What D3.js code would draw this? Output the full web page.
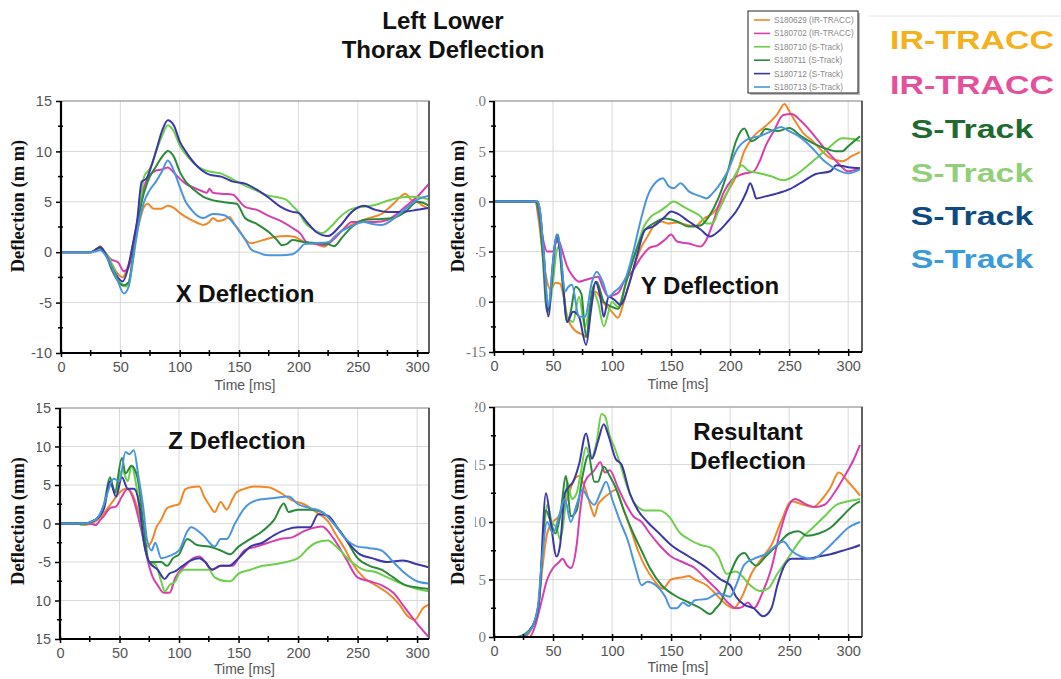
<!DOCTYPE html>
<html>
<head>
<meta charset="utf-8">
<script src="https://cdn.jsdelivr.net/npm/d3@7"></script>
<style>
  body { margin: 0; background: #fff; }
  svg { display: block; }
</style>
</head>
<body>
<svg id="chart" width="1061" height="679"></svg>
<script>
// ---- Series (test IDs, sensors, colours) ----
const seriesNames = ["S180629 (IR-TRACC)", "S180702 (IR-TRACC)", "S180710 (S-Track)",
                     "S180711 (S-Track)", "S180712 (S-Track)", "S180713 (S-Track)"];
const seriesColors = ["#f0882a", "#d63fae", "#6dcf4b", "#2b8a3a", "#3a38a6", "#4b95df"];
const sensorLabels = ["IR-TRACC", "IR-TRACC", "S-Track", "S-Track", "S-Track", "S-Track"];
const sensorColors = ["#f5b01e", "#e5509d", "#1f6b2f", "#93cf79", "#0c4a80", "#3b9ad9"];

// ---- Axis ticks ----
const timeTicks = [0, 50, 100, 150, 200, 250, 300];
const timeMinor = [25, 75, 125, 175, 225, 275];
const xTicks = [15, 10, 5, 0, -5, -10];
const yTicks = [10, 5, 0, -5, -10, -15];
const zTicks = [15, 10, 5, 0, -5, -10, -15];
const rTicks = [20, 15, 10, 5, 0];

// ---- X deflection [time ms, mm] ----
const xDeflection = [
  [[0,0],[25,0],[30,0.3],[33,0.6],[37,0],[42,-1],[47,-2],[52,-2.5],[56,-1.5],[60,0],[65,2.5],[70,4.5],[73,4.8],[78,4.3],[84,4.3],[90,4.6],[95,4.4],[100,3.9],[108,3.3],[115,2.9],[120,2.7],[125,3.0],[128,3.4],[132,3.1],[137,3.2],[142,3.5],[146,2.8],[150,2.2],[155,1.3],[160,0.9],[170,1.2],[180,1.5],[190,1.6],[197,1.5],[205,1.0],[215,0.8],[222,0.55],[230,1.5],[240,2.4],[250,3.0],[260,3.4],[270,3.8],[280,4.8],[286,5.5],[290,5.8],[295,5.2],[300,5.0],[305,4.6],[310,4.3]],
  [[0,0],[25,0],[30,0.3],[33,0.5],[37,0],[42,-0.7],[48,-1.0],[53,-1.9],[57,-1.5],[61,1],[65,3.5],[70,6.5],[74,7.5],[80,8.1],[85,8.2],[90,8.4],[95,7.9],[100,7.3],[105,6.8],[110,6.5],[118,6.1],[123,5.9],[125,6.3],[128,5.9],[135,5.8],[145,5.7],[150,5.1],[155,4.5],[165,4.2],[175,3.6],[185,3.1],[195,2.4],[202,1.8],[207,1.0],[215,0.8],[222,0.7],[230,1.3],[238,2.3],[245,3.0],[255,3.0],[265,3.0],[275,3.2],[283,3.8],[290,4.5],[300,5.5],[310,6.8]],
  [[0,0],[25,0],[33,0.3],[40,-0.5],[46,-2],[50,-3],[55,-3.4],[59,-2],[63,1.5],[67,5],[70,7.5],[75,8.3],[80,10],[85,11.5],[90,12.6],[95,12],[100,10.6],[108,9.3],[115,8.5],[125,8],[135,7.8],[145,7.2],[155,6.6],[165,6.1],[175,5.6],[180,5.5],[190,5.2],[195,4.6],[200,4.0],[205,3.0],[212,2.3],[220,1.9],[228,2.6],[235,3.5],[245,4.3],[255,4.5],[265,4.7],[275,5.1],[285,5.4],[295,5.5],[305,5.4],[310,5.2]],
  [[0,0],[25,0],[33,0.5],[38,-0.3],[43,-1.8],[47,-2.7],[52,-3.3],[57,-3.0],[61,0],[65,3],[68,5],[73,7],[80,8.5],[86,9.6],[90,10.05],[95,9.5],[100,8.0],[105,7.0],[112,6.2],[120,5.5],[135,5.0],[148,4.8],[155,3.4],[165,2.8],[175,2.0],[182,1.2],[186,0.7],[190,0.8],[195,1.2],[205,1.0],[215,0.9],[225,0.8],[230,0.6],[237,1.5],[245,2.5],[255,3.2],[270,3.3],[280,3.4],[290,4.0],[300,5.0],[305,4.9],[310,4.6]],
  [[0,0],[25,0],[33,0.5],[38,-0.3],[45,-2],[52,-2.9],[56,-1.8],[60,0.5],[64,3],[68,7],[72,7.3],[76,8.5],[80,10],[85,12],[90,13.1],[95,12.6],[100,11],[105,10],[115,8.5],[125,7.7],[135,7.5],[145,7.0],[155,6.8],[165,6.2],[175,5.4],[185,4.5],[195,4.0],[200,3.9],[207,3.0],[215,2.0],[225,1.6],[235,2.6],[245,4.0],[255,4.6],[265,4.2],[275,4.0],[285,4.0],[300,4.2],[310,4.4]],
  [[0,0],[25,0],[33,0.2],[40,-0.8],[47,-2.6],[53,-4.1],[57,-3.4],[61,-0.5],[65,2.5],[70,5],[75,6.2],[80,7],[85,8],[90,9.1],[95,8.1],[100,6.5],[105,5.0],[110,4.2],[115,3.6],[120,3.4],[128,3.8],[137,3.7],[143,3.2],[150,2.1],[155,1.3],[160,0.3],[165,0],[175,-0.3],[185,-0.3],[195,-0.2],[200,0.2],[205,0.8],[215,0.9],[225,1.0],[235,2.0],[245,2.6],[255,3.0],[262,2.8],[270,2.7],[280,3.3],[290,4.3],[300,5.2],[310,5.6]]
];

// ---- Y deflection [time ms, mm] ----
const yDeflection = [
  [[0,0],[35,0],[38,-2],[41,-5],[45,-8],[48,-8.8],[52,-8.1],[56,-8.2],[59,-9.5],[62,-11.5],[66,-12.5],[70,-13],[74,-13.2],[78,-13.5],[82,-10.5],[86,-9],[92,-10],[100,-11],[105,-11.6],[110,-10],[115,-8],[120,-6],[125,-4.5],[130,-3.5],[137,-2.2],[142,-2],[147,-2.2],[155,-2.1],[162,-2.3],[170,-2.5],[178,-1.7],[185,-1.2],[192,-0.2],[198,1],[205,2.5],[212,5],[220,6.5],[230,7.5],[240,8.7],[246,9.7],[250,9],[255,8],[262,6.8],[270,6],[278,5],[285,4.3],[295,4.0],[303,4.5],[310,4.9]],
  [[0,0],[35,0],[38,-1.5],[41,-3.5],[45,-5],[50,-5],[53,-4],[55,-4],[58,-5],[62,-6.5],[67,-7.5],[72,-8],[78,-7.8],[84,-7.6],[88,-7.5],[92,-8.5],[97,-9.5],[102,-9.3],[106,-9],[110,-8],[117,-7],[125,-5.5],[132,-4.6],[138,-4.4],[145,-3.8],[150,-3.3],[155,-4],[165,-4.2],[175,-4.5],[180,-3.8],[185,-2.3],[190,-0.5],[195,1],[202,2.2],[210,2.7],[220,3],[225,4],[230,5.5],[237,7],[245,8.6],[252,8.7],[260,8],[268,7],[275,6],[282,5],[290,4],[300,3],[305,3.1],[310,3.3]],
  [[0,0],[35,0],[38,-1],[42,-5],[46,-10.8],[50,-8],[53,-5],[55,-4.5],[58,-8],[62,-11.5],[67,-12],[72,-9.5],[77,-12.5],[81,-10.5],[84,-9],[88,-10],[93,-12.45],[97,-11],[100,-10],[105,-10.5],[112,-8],[120,-5],[127,-2.5],[133,-1.5],[140,-1],[146,-0.5],[152,0],[160,-0.5],[168,-1],[175,-1.5],[180,-2.2],[185,-2.2],[190,-1],[198,1],[205,2.8],[210,3.6],[215,3.1],[225,2.8],[235,2.5],[245,2.1],[255,2.6],[265,3.5],[275,4.5],[285,5.5],[295,6.3],[305,6.2],[310,6.0]],
  [[0,0],[35,0],[38,-1],[41,-5],[45,-11],[49,-8],[52,-4],[54,-3.3],[58,-8],[62,-12],[65,-11],[69,-8.5],[74,-9.2],[78,-13.5],[83,-9],[87,-8],[93,-10],[100,-10.5],[105,-10.7],[112,-8],[120,-5],[127,-3],[135,-2.2],[145,-1.7],[155,-2],[165,-2.5],[175,-2.4],[182,-1.5],[190,0.3],[198,3],[205,6],[212,7.25],[218,6],[225,6.5],[230,7.2],[240,7],[250,7.3],[260,6.5],[270,5.8],[280,5.3],[290,5.0],[295,5.0],[300,5.5],[310,6.5]],
  [[0,0],[37,0],[39,-1],[42,-5],[46,-11.45],[50,-6],[53,-3.5],[57,-6],[62,-12],[67,-11],[72,-11.5],[78,-14.3],[82,-11],[86,-8],[90,-9.5],[93,-11.5],[97,-9.5],[102,-9.8],[107,-10.3],[115,-8],[122,-5],[128,-2.8],[135,-2.5],[145,-1.5],[150,-1],[155,-1.2],[165,-2],[175,-2.8],[183,-3.5],[190,-3],[198,-2],[205,-1],[210,0],[214,1],[217,1.8],[220,1],[222,0.3],[230,0.5],[240,0.8],[250,1.2],[262,2],[272,2.7],[285,3],[290,3.6],[300,3.4],[310,3.3]],
  [[0,0],[37,0],[39,-1],[42,-5],[46,-10.5],[50,-6],[53,-3.3],[56,-4.5],[60,-9],[63,-8.5],[66,-8.3],[72,-11.5],[77,-11.5],[83,-8],[87,-7],[92,-8],[97,-9.5],[102,-9],[107,-8.5],[112,-7.5],[118,-5],[124,-2],[130,0.5],[138,2],[143,2.3],[148,1.5],[152,1.3],[158,1.8],[165,1],[175,0.5],[180,0.3],[185,0.8],[190,1.5],[198,3],[205,5],[215,6.2],[225,6.5],[235,7],[243,7.4],[250,7],[258,6.5],[268,5.5],[280,4],[290,3.2],[300,2.8],[310,3.2]]
];

// ---- Z deflection [time ms, mm] ----
const zDeflection = [
  [[0,0],[18,0],[20,-0.2],[30,0.3],[35,1],[40,2],[45,3],[50,4],[55,4.5],[60,4],[64,2.5],[67,1],[70,-1.5],[73,-3],[77,-2.3],[81,-0.5],[85,0.5],[90,2],[95,2.3],[100,2.5],[105,4.4],[110,4.7],[117,4.8],[121,3.5],[125,2.5],[130,1.5],[135,2.8],[140,1.8],[145,3.2],[148,4],[155,4.5],[163,4.8],[175,4.7],[185,4],[195,3],[205,2.5],[215,1.5],[225,0.3],[232,-1.5],[240,-3.5],[245,-5],[255,-7],[265,-8],[275,-9],[285,-10.5],[292,-12],[298,-12.5],[305,-11],[310,-10.5]],
  [[0,0],[25,0],[30,-0.2],[34,0.5],[37,1],[42,2],[47,2.2],[52,3.5],[57,4.5],[62,3],[67,0],[70,-2],[74,-5],[78,-7],[82,-8],[87,-9],[92,-9],[97,-7],[105,-5.5],[112,-4.5],[117,-4.3],[122,-5],[127,-6],[135,-5.5],[145,-5.5],[150,-4.5],[155,-3.5],[165,-3],[175,-2.5],[185,-2],[195,-1.8],[205,-1],[212,-0.6],[220,-0.4],[230,-2],[240,-4.5],[250,-7],[260,-7.5],[270,-8],[280,-9],[290,-11],[300,-13],[310,-14.8]],
  [[0,0],[15,0],[18,-0.2],[25,0.2],[30,0.5],[37,2],[42,5.5],[47,4],[52,7],[57,5.5],[60,7.5],[65,4],[70,-2],[75,-5],[80,-5.3],[85,-7.5],[88,-8.8],[92,-8],[97,-7.5],[100,-6.5],[105,-6],[115,-6],[125,-6],[130,-7],[140,-7.5],[143,-7.5],[150,-6.5],[160,-6],[170,-5.5],[180,-5.3],[190,-5],[200,-4.5],[210,-3],[215,-2.5],[225,-2.2],[232,-3],[245,-5],[255,-6],[265,-6.3],[275,-7],[290,-8],[300,-8.5],[310,-8.8]],
  [[0,0],[20,0],[30,0.5],[37,2.5],[42,6],[46,4],[52,8.5],[55,6.5],[60,7.5],[65,6],[70,0],[75,-5],[85,-5],[90,-5.5],[95,-4.5],[100,-4],[107,-2],[115,-2.8],[125,-3],[135,-3.5],[143,-4],[150,-3],[160,-2],[170,-1],[180,0.5],[188,2.6],[192,1.5],[200,1.8],[210,1.8],[220,1.5],[230,0],[240,-2],[250,-4.5],[260,-5.5],[270,-6],[280,-7],[290,-8],[300,-8.3],[310,-8.5]],
  [[0,0],[20,0],[30,0.5],[37,2],[42,5.5],[47,3.5],[52,6],[57,4.5],[62,4.5],[67,2],[70,-2],[75,-5],[82,-6],[88,-7.2],[92,-6.5],[97,-6.2],[103,-5.5],[110,-4.8],[117,-4.5],[122,-5],[128,-6],[135,-5.5],[142,-5.5],[150,-4.5],[160,-3],[170,-2.5],[180,-1.5],[190,-0.8],[200,-0.5],[210,-0.5],[217,1.2],[225,1],[235,-1],[245,-3],[252,-4],[262,-4.5],[275,-5],[288,-4.8],[300,-5.3],[310,-5.7]],
  [[0,0],[20,0],[30,0.5],[37,2.5],[40,4],[45,5.8],[50,5.5],[55,9.3],[58,9],[62,9.5],[66,6],[70,2],[73,-2],[77,-3.5],[80,-2.5],[85,-4.5],[92,-4.2],[100,-3.5],[107,-1],[110,-0.5],[120,-1.5],[130,-3],[135,-2],[140,-2],[147,0],[155,2],[165,3],[180,3.3],[192,3.5],[200,2.5],[210,2],[220,1.5],[230,0],[240,-2],[250,-3],[260,-3.2],[270,-3.5],[280,-5],[290,-6.5],[300,-7.5],[310,-7.8]]
];

// ---- Resultant deflection [time ms, mm] ----
const resultantDeflection = [
  [[0,0],[25,0],[33,1],[38,3],[41,6],[45,9],[50,10],[55,10.5],[62,12],[67,13.5],[72,14],[77,13],[83,11],[85,10.5],[88,11.5],[92,12],[98,12.5],[103,12.8],[110,11],[117,9],[122,7.5],[135,5],[143,4.2],[150,5],[160,5.2],[165,5.3],[170,5],[180,4.5],[190,3.5],[197,2.8],[203,2.5],[210,3.5],[218,5.5],[228,7],[235,8],[243,10],[252,11.8],[262,11.5],[270,11.3],[278,12],[285,13],[292,14.3],[300,13.5],[310,12.3]],
  [[0,0],[30,0],[35,1],[40,3],[45,5],[50,6],[55,6.5],[58,6.8],[62,6.2],[65,6],[70,8],[73,11],[77,13.5],[85,14.5],[90,15.2],[94,14.3],[98,14.5],[105,13],[112,11.5],[118,10.5],[125,10],[132,9],[140,8],[150,7],[160,6.5],[170,6],[180,5],[190,4],[198,3],[205,2.5],[210,2.6],[215,3],[220,2.5],[228,4],[235,6],[242,9],[250,11.5],[255,12],[265,11.5],[272,11.3],[280,11.5],[288,12.5],[297,14],[305,15.5],[310,16.7]],
  [[0,0],[20,0],[25,0.2],[33,1],[38,3],[43,10],[45,11.5],[49,10],[53,9.5],[56,8.5],[60,11],[62,13.5],[66,12],[70,12.5],[73,14],[78,16.5],[82,15.5],[87,17],[91,19.4],[94,19.2],[98,17.5],[102,16.5],[107,15],[113,13],[120,11.5],[128,11],[140,11],[148,10.5],[158,9],[165,8.5],[175,8],[183,7.8],[190,7],[197,5.5],[205,5.7],[210,5.3],[217,4.5],[225,4],[232,4.2],[240,5.5],[250,7],[260,8.5],[270,9.5],[280,10.5],[290,11.5],[300,11.8],[310,12]],
  [[0,0],[20,0],[33,1],[38,3],[44,11],[48,10],[52,9],[56,10.5],[61,14],[65,10.5],[70,11],[75,14],[80,15.8],[85,13.5],[88,13.5],[93,14.8],[98,14],[103,13],[110,11],[118,9],[125,7.5],[132,6],[142,4.5],[155,3.5],[165,3],[175,2.5],[183,2],[188,2.5],[192,3],[200,5.5],[207,7],[212,7.3],[218,6.5],[222,6.2],[230,7],[240,8],[250,9],[258,9.2],[265,8.8],[275,9],[285,9.5],[295,10.5],[305,11.5],[310,11.8]],
  [[0,0],[22,0],[33,1],[38,3],[44,12.5],[48,10],[53,7],[56,8],[60,12.5],[63,13],[67,13.5],[72,15],[78,17.7],[83,15.5],[88,17],[93,18.5],[97,17.5],[103,15.5],[108,15],[115,12.5],[122,11],[130,10],[140,9],[150,8],[165,7],[180,6],[192,5],[200,4.5],[205,3.5],[212,2.8],[220,2.5],[228,1.8],[235,2.5],[240,4.5],[245,6],[252,6.8],[265,6.8],[275,7],[285,7.2],[295,7.5],[305,7.8],[310,8]],
  [[0,0],[20,0],[30,0.5],[37,2.5],[40,6],[45,10],[50,9],[55,10.5],[60,12],[65,10],[70,11.5],[75,12.8],[80,12],[85,11.5],[90,12.5],[95,13.5],[100,12],[107,10],[113,8.5],[120,6],[125,4.5],[130,4.8],[137,4.5],[145,3.5],[150,2.5],[155,2.5],[160,3],[165,2.7],[170,3.2],[180,3.3],[190,3.8],[200,3.5],[205,4.5],[212,6.3],[220,6.8],[230,7.2],[245,8.3],[252,7.5],[260,7],[270,6.8],[280,7.5],[290,8.5],[300,9.5],[310,10]]
];

// ---- Panel layout ----
const panels = [
  { data: xDeflection, ticks: xTicks, tickText: ["15","10","5","0","-5","-10"],
    domain: [-10, 15], left: 61, right: 429, top: 101, bottom: 353, plotRight: 429,
    serifTicks: false, yLabel: "Deflection (m m)", labelClip: null,
    title: ["X Deflection"], titleX: 245, titleY: [302] },
  { data: yDeflection, ticks: yTicks, tickText: ["10","5","0","-5","-10","-15"],
    domain: [-15, 10], left: 494, right: 862, top: 101, bottom: 352, plotRight: 860,
    serifTicks: true, yLabel: "Deflection (m m)", labelClip: { x: 476, yMax: 345 },
    title: ["Y Deflection"], titleX: 710, titleY: [294] },
  { data: zDeflection, ticks: zTicks, tickText: ["15","10","5","0","-5","-10","-15"],
    domain: [-15, 15], left: 60, right: 429, top: 408, bottom: 639, plotRight: 429,
    serifTicks: false, yLabel: "Deflection (mm)", labelClip: { x: 37, yMax: 679 },
    title: ["Z Deflection"], titleX: 237, titleY: [449] },
  { data: resultantDeflection, ticks: rTicks, tickText: ["20","15","10","5","0"],
    domain: [0, 20], left: 494, right: 862, top: 407, bottom: 637, plotRight: 860,
    serifTicks: true, yLabel: "Deflection (mm)", labelClip: { x: 475, yMax: 679 },
    title: ["Resultant", "Deflection"], titleX: 748, titleY: [440, 469] }
];

const SANS = "'Liberation Sans', Arial, sans-serif";
const SERIF = "'Liberation Serif', 'Times New Roman', serif";

const svg = d3.select("#chart");
svg.append("rect").attr("width", 1061).attr("height", 679).attr("fill", "#fff");
const defs = svg.append("defs");

panels.forEach((p, pi) => {
  const x = d3.scaleLinear().domain([0, 310]).range([p.left, p.plotRight]);
  const y = d3.scaleLinear().domain(p.domain).range([p.bottom, p.top]);
  const g = svg.append("g");

  // gridlines
  g.append("g").selectAll("line").data(timeTicks.filter(t => t > 0)).join("line")
    .attr("x1", d => x(d)).attr("x2", d => x(d)).attr("y1", p.top).attr("y2", p.bottom)
    .attr("stroke", "#d9d9d9").attr("stroke-width", 1);
  g.append("g").selectAll("line").data(p.ticks.filter(v => v !== p.domain[0] && v !== p.domain[1])).join("line")
    .attr("x1", p.left).attr("x2", p.right).attr("y1", d => y(d)).attr("y2", d => y(d))
    .attr("stroke", "#d9d9d9").attr("stroke-width", 1);

  // clip for the curves (a little slack so strokes on the border stay whole)
  defs.append("clipPath").attr("id", "plot" + pi).append("rect")
    .attr("x", p.left).attr("y", p.top - 2).attr("width", p.right - p.left).attr("height", p.bottom - p.top + 4);

  const line = d3.line().x(d => x(d[0])).y(d => y(d[1])).curve(d3.curveMonotoneX);
  g.append("g").attr("clip-path", `url(#plot${pi})`)
    .selectAll("path").data(p.data).join("path")
    .attr("d", line).attr("fill", "none")
    .attr("stroke", (d, i) => seriesColors[i]).attr("stroke-width", 2)
    .attr("stroke-linejoin", "round");

  // frame: light top, darker right, black left and bottom axes
  g.append("line").attr("x1", p.left).attr("x2", p.right + 1).attr("y1", p.top).attr("y2", p.top)
    .attr("stroke", "#a8a8a8").attr("stroke-width", 1.5);
  g.append("line").attr("x1", p.right).attr("x2", p.right).attr("y1", p.top).attr("y2", p.bottom)
    .attr("stroke", "#606060").attr("stroke-width", 2);

  // x axis
  const xAxis = g.append("g").attr("transform", `translate(0,${p.bottom})`)
    .call(d3.axisBottom(x).tickValues(timeTicks).tickSize(4).tickPadding(5).tickFormat(d3.format("d")));
  xAxis.select(".domain").attr("d", `M${p.left - 1},0H${p.right}`).attr("stroke", "#000").attr("stroke-width", 2.2);
  xAxis.selectAll(".tick line").attr("y1", -3).attr("stroke", "#000").attr("stroke-width", 1.5);
  xAxis.selectAll(".tick text").attr("font-family", SANS).attr("font-size", 14.5).attr("fill", "#555");
  g.append("g").selectAll("line").data(timeMinor).join("line")
    .attr("x1", d => x(d)).attr("x2", d => x(d)).attr("y1", p.bottom - 3).attr("y2", p.bottom + 3)
    .attr("stroke", "#000").attr("stroke-width", 1.5);

  // y axis
  const labelsG = g.append("g");
  if (p.labelClip) {
    const cp = defs.append("clipPath").attr("id", "lab" + pi);
    cp.append("rect").attr("x", p.labelClip.x).attr("y", 0).attr("width", 100).attr("height", 679);
    cp.append("rect").attr("x", 0).attr("y", p.labelClip.yMax).attr("width", 1061).attr("height", 679);
    labelsG.attr("clip-path", `url(#lab${pi})`);
  }
  const yAxis = labelsG.append("g").attr("transform", `translate(${p.left},0)`)
    .call(d3.axisLeft(y).tickValues(p.ticks).tickSize(5).tickPadding(p.serifTicks ? 3 : 4)
      .tickFormat((d, i) => p.tickText[i]));
  yAxis.select(".domain").attr("d", `M0,${p.top}V${p.bottom + 1}`).attr("stroke", "#000").attr("stroke-width", 2.2);
  yAxis.selectAll(".tick line").attr("stroke", "#000").attr("stroke-width", 1.5);
  yAxis.selectAll(".tick text")
    .attr("font-family", p.serifTicks ? SERIF : SANS)
    .attr("font-size", p.serifTicks ? 15 : 14.5)
    .attr("fill", p.serifTicks ? "#777" : "#555");
  const minorY = [];
  for (let i = 0; i < p.ticks.length - 1; i++) minorY.push((p.ticks[i] + p.ticks[i + 1]) / 2);
  g.append("g").selectAll("line").data(minorY).join("line")
    .attr("x1", p.left - 3).attr("x2", p.left + 2).attr("y1", d => y(d)).attr("y2", d => y(d))
    .attr("stroke", "#000").attr("stroke-width", 1.5);

  // axis titles
  const cx = (p.left + p.right) / 2;
  g.append("text").attr("x", cx).attr("y", p.bottom + (pi < 2 ? 37 : 35))
    .attr("text-anchor", "middle").attr("font-family", SANS).attr("font-size", 14)
    .attr("fill", "#555").text("Time [ms]");
  const yLabX = pi % 2 === 0 ? 18 : 458;
  const yLabY = pi < 2 ? 206 : 521;
  g.append("text").attr("transform", `translate(${yLabX + 6},${yLabY}) rotate(-90)`)
    .attr("text-anchor", "middle").attr("font-family", SERIF).attr("font-weight", "bold")
    .attr("font-size", 18.5).attr("fill", "#111").text(p.yLabel);

  // panel heading
  p.title.forEach((t, k) => {
    g.append("text").attr("x", p.titleX).attr("y", p.titleY[k]).attr("text-anchor", "middle")
      .attr("font-family", SANS).attr("font-weight", "bold").attr("font-size", 24)
      .attr("fill", "#111").text(t);
  });
});

// ---- Figure title ----
["Left Lower", "Thorax Deflection"].forEach((t, k) => {
  svg.append("text").attr("x", 443).attr("y", 28.5 + k * 29).attr("text-anchor", "middle")
    .attr("font-family", SANS).attr("font-weight", "bold").attr("font-size", 24)
    .attr("fill", "#111").text(t);
});

// ---- Legend box ----
const lg = svg.append("g");
lg.append("rect").attr("x", 750).attr("y", 13).attr("width", 110).attr("height", 82).attr("fill", "#bbb");
lg.append("rect").attr("x", 748).attr("y", 11).attr("width", 110).attr("height", 82)
  .attr("fill", "#fff").attr("stroke", "#222").attr("stroke-width", 1);
const legendY = d3.scaleLinear().domain([0, 5]).range([20, 87]);
seriesNames.forEach((name, i) => {
  lg.append("line").attr("x1", 754).attr("x2", 770).attr("y1", legendY(i)).attr("y2", legendY(i))
    .attr("stroke", seriesColors[i]).attr("stroke-width", 1.6);
  lg.append("text").attr("x", 774).attr("y", legendY(i) + 3).attr("font-family", SANS)
    .attr("font-size", 8.2).attr("fill", "#8a8a8a").text(name);
});

// ---- Sensor key on the right ----
svg.append("line").attr("x1", 868).attr("x2", 1061).attr("y1", 16).attr("y2", 16)
  .attr("stroke", "#e4e4e4").attr("stroke-width", 1);
const keyY = [49, 94, 138, 182, 225, 268];
sensorLabels.forEach((s, i) => {
  svg.append("text").attr("transform", `translate(972,${keyY[i]}) scale(1.33,1)`)
    .attr("text-anchor", "middle").attr("font-family", SANS).attr("font-weight", "bold")
    .attr("font-size", 25.5).attr("fill", sensorColors[i]).text(s);
});
</script>
</body>
</html>
